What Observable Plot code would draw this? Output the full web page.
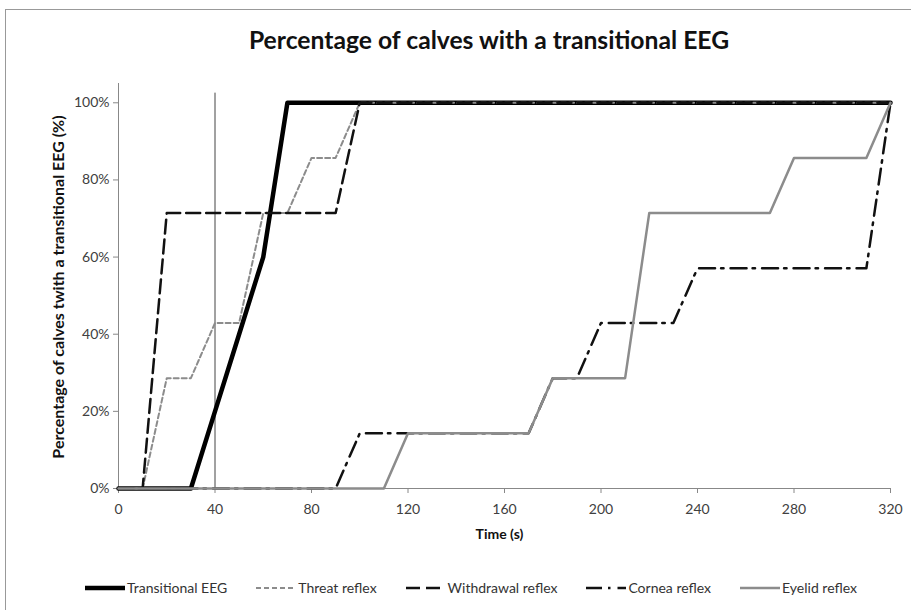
<!DOCTYPE html>
<html>
<head>
<meta charset="utf-8">
<script src="https://cdn.jsdelivr.net/npm/d3@7"></script>
<script src="https://cdn.jsdelivr.net/npm/@observablehq/plot@0.6"></script>
<style>
  html, body { margin: 0; padding: 0; background: #fff; overflow: hidden; }
  body { width: 911px; height: 610px; position: relative; font-family: Lato, "Open Sans", sans-serif; }
  #frame { position: absolute; left: 5px; top: 9px; width: 1000px; height: 700px; border: 1px solid #999; box-sizing: border-box; }
  #title { position: absolute; left: 0; top: 25px; width: 978px; text-align: center; font-size: 24.7px; font-weight: bold; color: #111; }
  #plot { position: absolute; left: 0; top: 70px; }
  #legend { position: absolute; left: 85px; top: 579px; display: flex; align-items: center; gap: 29px; font-size: 14px; color: #333; }
  .item { display: flex; align-items: center; gap: 2px; white-space: nowrap; }
  .item svg { display: block; }
</style>
</head>
<body>
<div id="frame"></div>
<div id="title">Percentage of calves with a transitional EEG</div>
<div id="plot"></div>
<div id="legend"></div>
<script>
// ---- data ----
const times = [0,10,20,30,40,50,60,70,80,90,100,110,120,130,140,150,160,170,180,190,200,210,220,230,240,250,260,270,280,290,300,310,320];
const eeg        = [0,0,0,0,20,40,60,100,100,100,100,100,100,100,100,100,100,100,100,100,100,100,100,100,100,100,100,100,100,100,100,100,100];
const threat     = [0,0,28.6,28.6,42.9,42.9,71.4,71.4,85.7,85.7,100,100,100,100,100,100,100,100,100,100,100,100,100,100,100,100,100,100,100,100,100,100,100];
const withdrawal = [0,0,71.4,71.4,71.4,71.4,71.4,71.4,71.4,71.4,100,100,100,100,100,100,100,100,100,100,100,100,100,100,100,100,100,100,100,100,100,100,100];
const cornea     = [0,0,0,0,0,0,0,0,0,0,14.3,14.3,14.3,14.3,14.3,14.3,14.3,14.3,28.6,28.6,42.9,42.9,42.9,42.9,57.1,57.1,57.1,57.1,57.1,57.1,57.1,57.1,100];
const eyelid     = [0,0,0,0,0,0,0,0,0,0,0,0,14.3,14.3,14.3,14.3,14.3,14.3,28.6,28.6,28.6,28.6,71.4,71.4,71.4,71.4,71.4,71.4,85.7,85.7,85.7,85.7,100];
const seriesNames = ["Transitional EEG","Threat reflex","Withdrawal reflex","Cornea reflex","Eyelid reflex"];
const xTicks = [0,40,80,120,160,200,240,280,320];
const yTicks = [0,20,40,60,80,100];
const markerTime = [40];
const markerTop = 102.5;

const styles = [
  {stroke: "#000", strokeWidth: 4.5},
  {stroke: "#8c8c8c", strokeWidth: 2, strokeDasharray: "5,3"},
  {stroke: "#111", strokeWidth: 2.5, strokeDasharray: "14,6"},
  {stroke: "#111", strokeWidth: 2.5, strokeDasharray: "16,6,2.5,7"},
  {stroke: "#8c8c8c", strokeWidth: 2.5}
];
const values = [eeg, threat, withdrawal, cornea, eyelid];
const tables = values.map((v, i) => times.map((t, j) => ({time: t, pct: v[j], series: seriesNames[i]})));

const chart = Plot.plot({
  width: 911,
  height: 480,
  marginLeft: 118,
  marginRight: 21,
  marginTop: 13,
  marginBottom: 62,
  x: {domain: [0, 320]},
  y: {domain: [0, 105]},
  style: {fontFamily: "Lato, 'Open Sans', sans-serif", fontSize: "14px", color: "#404040", background: "transparent"},
  marks: [
    Plot.axisX({ticks: xTicks, tickSize: 5, tickPadding: 11, stroke: "#888", fill: "#404040", label: null}),
    Plot.axisY({ticks: yTicks, tickSize: 5, tickPadding: 4, stroke: "#888", fill: "#404040", tickFormat: d => d + "%", label: null}),
    Plot.ruleY([0], {stroke: "#888"}),
    Plot.ruleX([0], {stroke: "#888"}),
    Plot.ruleX(markerTime, {y1: 0, y2: markerTop, stroke: "#444", strokeWidth: 1}),
    ...tables.map((d, i) => Plot.line(d, {x: "time", y: "pct", curve: "linear", strokeLinejoin: "round", ...styles[i]})),
    Plot.text(["Time (s)"], {frameAnchor: "bottom", dx: -5, dy: 50, fontWeight: "bold", fontSize: 14, fill: "#111"}),
    Plot.text(["Percentage of calves twith a transitional EEG (%)"], {frameAnchor: "left", textAnchor: "middle", dx: -60, dy: 1, rotate: -90, fontWeight: "bold", fontSize: 16, fill: "#111"})
  ]
});
document.getElementById("plot").appendChild(chart);

// legend
const legend = document.getElementById("legend");
seriesNames.forEach((name, i) => {
  const s = styles[i];
  const item = document.createElement("div");
  item.className = "item";
  const sw = d3.create("svg").attr("width", 40).attr("height", 10);
  sw.append("line").attr("x1", 0).attr("x2", 40).attr("y1", 5).attr("y2", 5)
    .attr("stroke", s.stroke).attr("stroke-width", s.strokeWidth)
    .attr("stroke-dasharray", s.strokeDasharray || null);
  item.appendChild(sw.node());
  const label = document.createElement("span");
  label.textContent = name;
  item.appendChild(label);
  legend.appendChild(item);
});
</script>
</body>
</html>
